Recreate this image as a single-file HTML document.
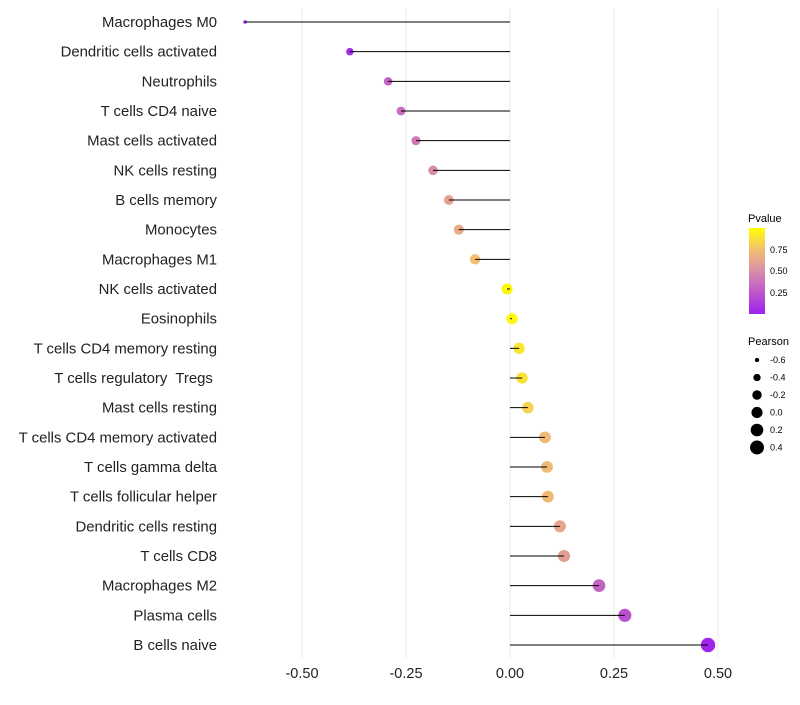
<!DOCTYPE html>
<html><head><meta charset="utf-8"><style>
body{margin:0;background:#fff;font-family:"Liberation Sans",sans-serif;}
</style></head><body>
<svg id="c" width="800" height="700" xmlns="http://www.w3.org/2000/svg">
<defs><linearGradient id="g" x1="0" y1="1" x2="0" y2="0">
<stop offset="0" stop-color="#a020f0"/><stop offset="0.5" stop-color="#d98ea8"/><stop offset="0.75" stop-color="#f2c070"/><stop offset="1" stop-color="#ffff00"/></linearGradient></defs>
<g id="grid"></g>
<g id="marks"></g>
<g id="legend">
<text x="748" y="222" font-size="11">Pvalue</text>
<rect x="749" y="228" width="16" height="86" fill="url(#g)"/>
<text x="770" y="253" font-size="9">0.75</text>
<text x="770" y="274" font-size="9">0.50</text>
<text x="770" y="296" font-size="9">0.25</text>
<text x="748" y="345" font-size="11">Pearson</text>
</g>
</svg>
<script>
const cells=["Macrophages M0","Dendritic cells activated","Neutrophils","T cells CD4 naive","Mast cells activated","NK cells resting","B cells memory","Monocytes","Macrophages M1","NK cells activated","Eosinophils","T cells CD4 memory resting","T cells regulatory  Tregs ","Mast cells resting","T cells CD4 memory activated","T cells gamma delta","T cells follicular helper","Dendritic cells resting","T cells CD8","Macrophages M2","Plasma cells","B cells naive"];
const pearson=[-0.637,-0.385,-0.293,-0.262,-0.226,-0.185,-0.147,-0.123,-0.084,-0.007,0.005,0.022,0.029,0.043,0.084,0.089,0.091,0.120,0.130,0.214,0.276,0.476];
const pvalue=[0.0,0.05,0.3,0.35,0.4,0.5,0.6,0.65,0.75,0.97,0.98,0.9,0.88,0.82,0.72,0.72,0.72,0.62,0.58,0.3,0.22,0.02];
const xTicks=[-0.5,-0.25,0,0.25,0.5];
const xTickLabels=["-0.50","-0.25","0.00","0.25","0.50"];
const sizeLegend=[-0.6,-0.4,-0.2,0.0,0.2,0.4];
const sizeLegendLabels=["-0.6","-0.4","-0.2","0.0","0.2","0.4"];
const NS="http://www.w3.org/2000/svg";
const x=v=>510+v*416;
const y=i=>22+i*(623/21);
const r=v=>Math.sqrt(Math.max(1,31+44*v));
function col(p){const st=[[0,[160,32,240]],[0.5,[217,142,168]],[0.75,[242,192,112]],[1,[255,255,0]]];
for(let k=1;k<st.length;k++){if(p<=st[k][0]){const a=st[k-1],b=st[k],t=(p-a[0])/(b[0]-a[0]);return 'rgb('+a[1].map((c,j)=>Math.round(c+(b[1][j]-c)*t)).join(',')+')';}}return 'rgb(255,255,0)';}
function mk(t,at,par){const e=document.createElementNS(NS,t);for(const k in at)e.setAttribute(k,at[k]);document.getElementById(par).appendChild(e);return e;}
xTicks.forEach((v,i)=>{
const l=mk('line',{x1:x(v),x2:x(v),y1:8,y2:658,stroke:'#ebebeb','stroke-width':1},'grid');


const t=mk('text',{x:x(v),y:678,'font-size':14.5,'text-anchor':'middle',fill:'#222'},'grid');t.textContent=xTickLabels[i];


});
cells.forEach((c,i)=>{
const t=mk('text',{x:217,y:y(i)+5,'font-size':14.9,'text-anchor':'end',fill:'#222','xml:space':'preserve'},'marks');t.style.whiteSpace='pre';t.textContent=c;


const ci=mk('circle',{cx:x(pearson[i]),cy:y(i),r:r(pearson[i]),fill:col(pvalue[i])},'marks');


const l=mk('line',{x1:x(0),x2:x(pearson[i]),y1:y(i),y2:y(i),stroke:'#000','stroke-width':1},'marks');


});
sizeLegend.forEach((v,i)=>{
const cy=360+i*17.5;
const ci=mk('circle',{cx:757,cy:cy,r:r(v),fill:'#000'},'legend');


const t=mk('text',{x:770,y:cy+3,'font-size':9},'legend');t.textContent=sizeLegendLabels[i];


});
</script>
</body></html>
